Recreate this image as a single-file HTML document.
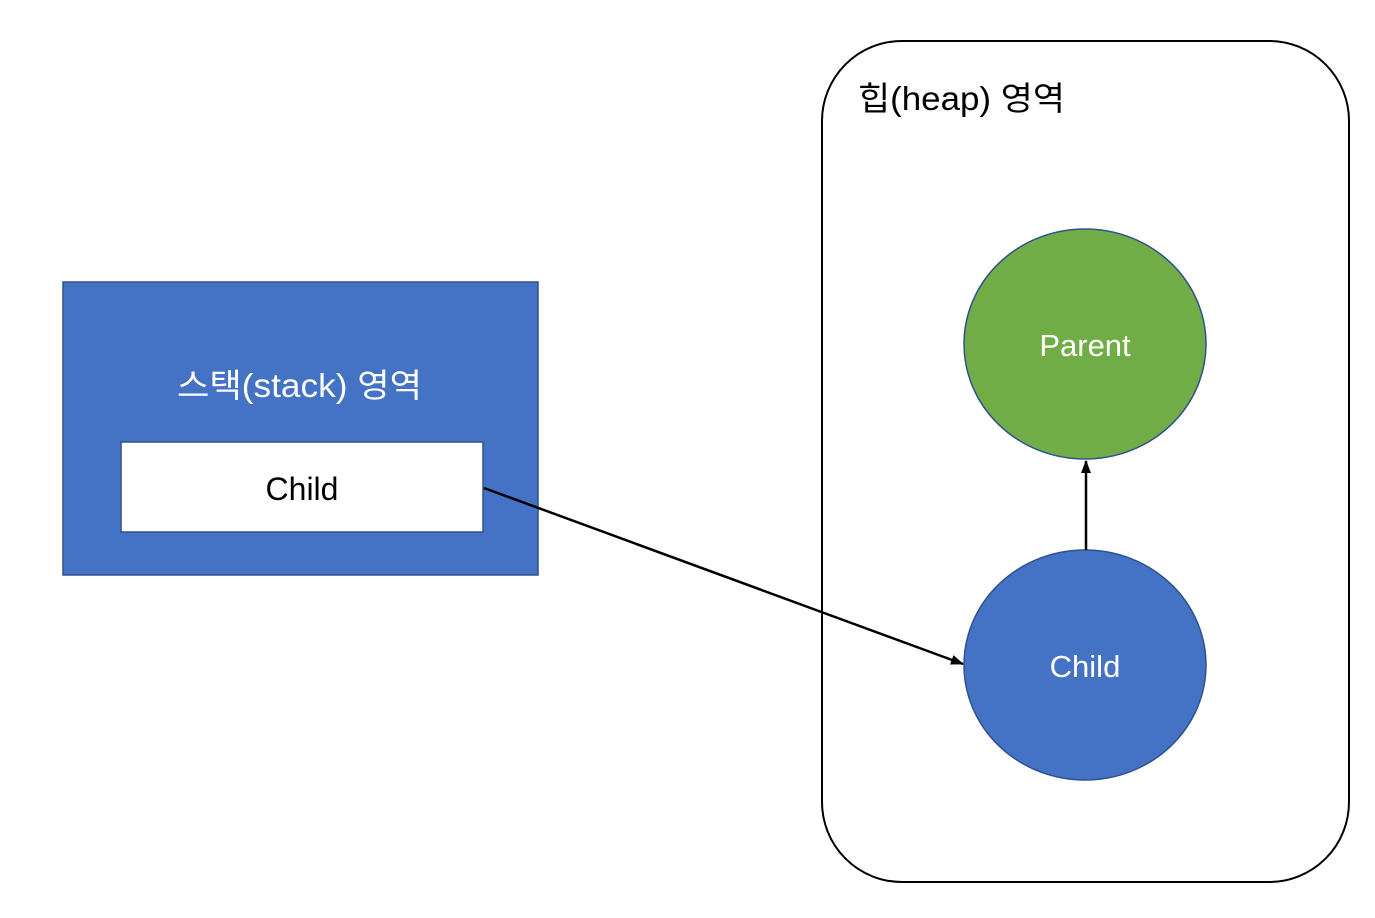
<!DOCTYPE html>
<html><head><meta charset="utf-8"><style>
html,body{margin:0;padding:0;background:#fff;}
</style></head><body>
<svg width="1375" height="918" xmlns="http://www.w3.org/2000/svg" style="display:block">
<defs><marker id="a" markerWidth="13" markerHeight="12" refX="12" refY="6" orient="auto" markerUnits="userSpaceOnUse"><path d="M0,1 L13,6 L0,11 z" fill="#000"/></marker></defs>
<rect x="822" y="41" width="527" height="841" rx="80" ry="80" fill="#fff" stroke="#000" stroke-width="2"/>
<text x="858" y="110" textLength="207" lengthAdjust="spacingAndGlyphs" font-family="Liberation Sans, 'Noto Sans CJK KR', sans-serif" font-size="33" fill="#000">힙(heap) 영역</text>
<rect x="63" y="282" width="475" height="293" fill="#4472c4" stroke="#2f528f" stroke-width="1.5"/>
<text x="177" y="397" textLength="245" lengthAdjust="spacingAndGlyphs" font-family="Liberation Sans, 'Noto Sans CJK KR', sans-serif" font-size="33" fill="#fff">스택(stack) 영역</text>
<rect x="121" y="442" width="362" height="90" fill="#fff" stroke="#2f528f" stroke-width="1.5"/>
<text x="302" y="500" text-anchor="middle" font-family="Liberation Sans, sans-serif" font-size="32" fill="#000">Child</text>
<ellipse cx="1085" cy="344" rx="121" ry="115" fill="#70ad47" stroke="#2f528f" stroke-width="1.5"/>
<text x="1085" y="356" text-anchor="middle" font-family="Liberation Sans, sans-serif" font-size="31" fill="#fff">Parent</text>
<ellipse cx="1085" cy="665" rx="121" ry="115" fill="#4472c4" stroke="#2f528f" stroke-width="1.5"/>
<text x="1085" y="677" text-anchor="middle" font-family="Liberation Sans, sans-serif" font-size="31" fill="#fff">Child</text>
<line x1="484" y1="488" x2="963" y2="664" stroke="#000" stroke-width="2.5" marker-end="url(#a)"/>
<line x1="1086" y1="550" x2="1086" y2="461" stroke="#000" stroke-width="2.5" marker-end="url(#a)"/>
</svg>
</body></html>
